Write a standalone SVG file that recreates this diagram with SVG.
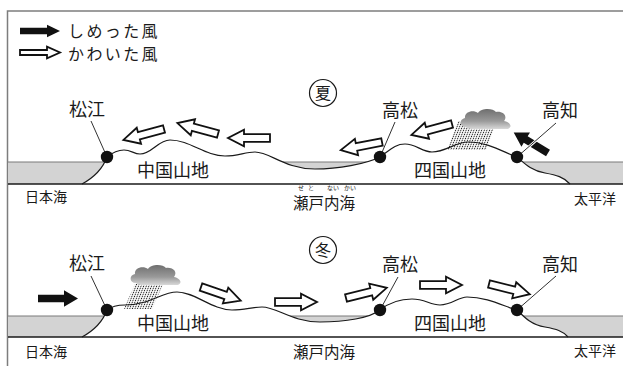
<svg xmlns="http://www.w3.org/2000/svg" width="623" height="366" viewBox="0 0 623 366">
  <style>
    text { font-family: "Noto Sans CJK JP", "Noto Sans", sans-serif; fill: #1a1a1a; }
    .lbl { font-size: 18px; text-anchor: middle; }
    .sea { font-size: 14px; text-anchor: middle; }
    .ruby { font-size: 6px; text-anchor: middle; }
    .leg { font-size: 16px; letter-spacing: 2.4px; }
    .terrain { fill: none; stroke: #1a1a1a; stroke-width: 1.2; stroke-linejoin: round; }
    .land { fill: #ffffff; stroke: none; }
    .water { fill: #d3d3d3; }
    .surface { stroke: #7a7a7a; stroke-width: 1.2; }
    .base { stroke: #1a1a1a; stroke-width: 1.4; }
    .leader-bg { stroke: #ffffff; stroke-width: 2.6; }
    .leader { stroke: #1a1a1a; stroke-width: 0.9; }
    .dot { fill: #111111; }
    .dry { fill: #ffffff; stroke: #111111; stroke-width: 1.8; stroke-linejoin: miter; }
    .wet { fill: #111111; }
    .season { fill: #ffffff; stroke: #1a1a1a; stroke-width: 1.2; }
  </style>
  <defs>
    <!-- outlined arrow (dry wind), tail at origin, pointing along +x -->
    <path id="dryArrow" d="M0,-3.8 H26 V-8.3 L42,0 L26,8.3 V3.8 H0 Z"/>
    <!-- solid arrow (moist wind) -->
    <path id="wetArrow" d="M0,-3.8 H26 V-8.3 L40,0 L26,8.3 V3.8 H0 Z"/>
    <linearGradient id="cloudShade" x1="0" y1="0" x2="0" y2="1">
      <stop offset="0" stop-color="#6f6f6f"/>
      <stop offset="0.6" stop-color="#9a9a9a"/>
      <stop offset="1" stop-color="#d8d8d8"/>
    </linearGradient>
    <!-- rain cloud, local origin at its top-left corner -->
    <path id="cloud" d="M6,17 C-1,17 -1,9 5,8 C4,2 13,-1 18,3 C21,-2 33,-2 36,2 C43,1 48,6 44,11 C50,12 53,17 48,19 L12,19 C9,19 7,18 6,17 Z"/>
    <!-- fine dotted rain streaks -->
    <pattern id="rain" width="2.6" height="2" patternUnits="userSpaceOnUse" patternTransform="skewX(-21)">
      <rect x="0.8" y="0" width="1" height="1.4" fill="#1a1a1a"/>
    </pattern>
  </defs>

  <!-- frame -->
  <path d="M7.5,366 V11 H623" fill="none" stroke="#7d7d7d" stroke-width="1.5"/>

  <!-- legend -->
  <g id="legend">
    <path class="wet" d="M20,27.8 H47 V24.8 L60,31 L47,37.2 V34.2 H20 Z"/>
    <text class="leg" x="68" y="36.5">しめった風</text>
    <path class="dry" d="M20,50 H47 V46.7 L60,52.5 L47,58.3 V55 H20 Z" stroke-width="1.5"/>
    <text class="leg" x="68" y="60">かわいた風</text>
  </g>

  <!-- ===== summer section ===== -->
  <g id="summer-ground">
    <rect class="water" x="8" y="162" width="615" height="22"/>
    <line class="surface" x1="8" y1="162" x2="623" y2="162"/>
    <path class="land" d="M82,184 C93,178 103,168 107,157 C112,153 118,150 124,150 C131,150 134,154 140,154 C152,154 158,140 170,140 C190,140 205,156 225,156 C238,156 245,152 255,152 C270,152 285,169 315,169 C338,169 366,164 380,157 C390,150 395,144 405,144 C416,144 422,152 432,152 C446,152 455,142 468,142 C488,142 505,153 517,157 C525,164 532,171 545,173 C556,175 564,177 570,184 Z"/>
    <path class="terrain" d="M82,184 C93,178 103,168 107,157 C112,153 118,150 124,150 C131,150 134,154 140,154 C152,154 158,140 170,140 C190,140 205,156 225,156 C238,156 245,152 255,152 C270,152 285,169 315,169 C338,169 366,164 380,157 C390,150 395,144 405,144 C416,144 422,152 432,152 C446,152 455,142 468,142 C488,142 505,153 517,157 C525,164 532,171 545,173 C556,175 564,177 570,184"/>
    <line class="base" x1="8" y1="184" x2="623" y2="184"/>
  </g>

  <g id="summer-weather">
    <polygon points="458,121 497,121 486,150 447,150" fill="url(#rain)"/>
    <use href="#cloud" transform="translate(460,110)" fill="url(#cloudShade)"/>
  </g>

  <g id="summer-winds">
    <use href="#dryArrow" class="dry" transform="translate(164,129) rotate(165)"/>
    <use href="#dryArrow" class="dry" transform="translate(218,134) rotate(195)"/>
    <use href="#dryArrow" class="dry" transform="translate(270,138) rotate(180)"/>
    <use href="#dryArrow" class="dry" transform="translate(382,142) rotate(169)"/>
    <use href="#dryArrow" class="dry" transform="translate(452,124) rotate(165)"/>
    <use href="#wetArrow" class="wet" transform="translate(548,153) rotate(-149)"/>
  </g>

  <g id="summer-leaders">
    <line class="leader" x1="91" y1="121" x2="107" y2="157"/>
    <line class="leader" x1="395" y1="122" x2="380" y2="157"/>
    <line class="leader-bg" x1="553" y1="126" x2="517" y2="157"/>
    <line class="leader" x1="556" y1="123" x2="517" y2="157"/>
  </g>

  <g id="summer-matsue">
    <circle class="dot" cx="107" cy="157" r="6.2"/>
    <text class="lbl" x="87" y="115.5">松江</text>
  </g>
  <g id="summer-takamatsu">
    <circle class="dot" cx="380" cy="157" r="6.2"/>
    <text class="lbl" x="400" y="116.5">高松</text>
  </g>
  <g id="summer-kochi">
    <circle class="dot" cx="517" cy="157" r="6.2"/>
    <text class="lbl" x="560" y="116.5">高知</text>
  </g>
  <g id="summer-mark">
    <circle class="season" cx="323" cy="93" r="13.5"/>
    <text x="323" y="99" style="font-size:16px;text-anchor:middle">夏</text>
  </g>
  <g id="summer-names">
    <text class="lbl" x="173" y="176.5">中国山地</text>
    <text class="lbl" x="450" y="176.5">四国山地</text>
    <text class="sea" x="46" y="202">日本海</text>
    <text class="sea" x="324" y="208.5" style="font-size:15.5px">瀬戸内海</text>
    <text class="ruby" x="301" y="189.5">せ</text>
    <text class="ruby" x="311" y="189.5">と</text>
    <text class="ruby" x="333" y="189.5">ない</text>
    <text class="ruby" x="350" y="189.5">かい</text>
    <text class="sea" x="595" y="204">太平洋</text>
  </g>

  <!-- ===== winter section ===== -->
  <g id="winter-ground">
    <rect class="water" x="8" y="316" width="615" height="21"/>
    <line class="surface" x1="8" y1="316" x2="623" y2="316"/>
    <path class="land" d="M82,337 C93,331 103,321 107,310 C112,306 118,305 125,305 C133,305 138,304 145,302 C158,298 166,292 177,292 C195,292 212,310 232,310 C245,310 252,307 262,307 C277,307 292,322 320,322 C345,322 370,318 380,310 C390,302 402,299 412,299 C425,299 430,305 440,305 C452,305 458,297 467,297 C488,297 505,307 517,310 C525,318 532,325 545,327 C556,329 563,331 568,337 Z"/>
    <path class="terrain" d="M82,337 C93,331 103,321 107,310 C112,306 118,305 125,305 C133,305 138,304 145,302 C158,298 166,292 177,292 C195,292 212,310 232,310 C245,310 252,307 262,307 C277,307 292,322 320,322 C345,322 370,318 380,310 C390,302 402,299 412,299 C425,299 430,305 440,305 C452,305 458,297 467,297 C488,297 505,307 517,310 C525,318 532,325 545,327 C556,329 563,331 568,337"/>
    <line class="base" x1="8" y1="337" x2="623" y2="337"/>
  </g>

  <g id="winter-weather">
    <polygon points="135,284 163,284 152,309 124,309" fill="url(#rain)"/>
    <use href="#cloud" transform="translate(130,266)" fill="url(#cloudShade)"/>
  </g>

  <g id="winter-winds">
    <use href="#wetArrow" class="wet" transform="translate(38,298.5)"/>
    <use href="#dryArrow" class="dry" transform="translate(201,287) rotate(19)"/>
    <use href="#dryArrow" class="dry" transform="translate(275,302)"/>
    <use href="#dryArrow" class="dry" transform="translate(346,298) rotate(-14)"/>
    <use href="#dryArrow" class="dry" transform="translate(420,285)"/>
    <use href="#dryArrow" class="dry" transform="translate(489,284) rotate(14)"/>
  </g>

  <g id="winter-leaders">
    <line class="leader" x1="91" y1="276" x2="107" y2="310"/>
    <line class="leader" x1="398" y1="277" x2="380" y2="310"/>
    <line class="leader" x1="556" y1="276" x2="517" y2="310"/>
  </g>

  <g id="winter-matsue">
    <circle class="dot" cx="107" cy="310" r="6.2"/>
    <text class="lbl" x="87" y="270">松江</text>
  </g>
  <g id="winter-takamatsu">
    <circle class="dot" cx="380" cy="310" r="6.2"/>
    <text class="lbl" x="400" y="271">高松</text>
  </g>
  <g id="winter-kochi">
    <circle class="dot" cx="517" cy="310" r="6.2"/>
    <text class="lbl" x="560" y="271">高知</text>
  </g>
  <g id="winter-mark">
    <circle class="season" cx="323" cy="250" r="13.5"/>
    <text x="323" y="256" style="font-size:16px;text-anchor:middle">冬</text>
  </g>
  <g id="winter-names">
    <text class="lbl" x="173" y="330">中国山地</text>
    <text class="lbl" x="450" y="330">四国山地</text>
    <text class="sea" x="46" y="357">日本海</text>
    <text class="sea" x="324" y="358" style="font-size:15.5px">瀬戸内海</text>
    <text class="sea" x="595" y="356">太平洋</text>
  </g>
</svg>
